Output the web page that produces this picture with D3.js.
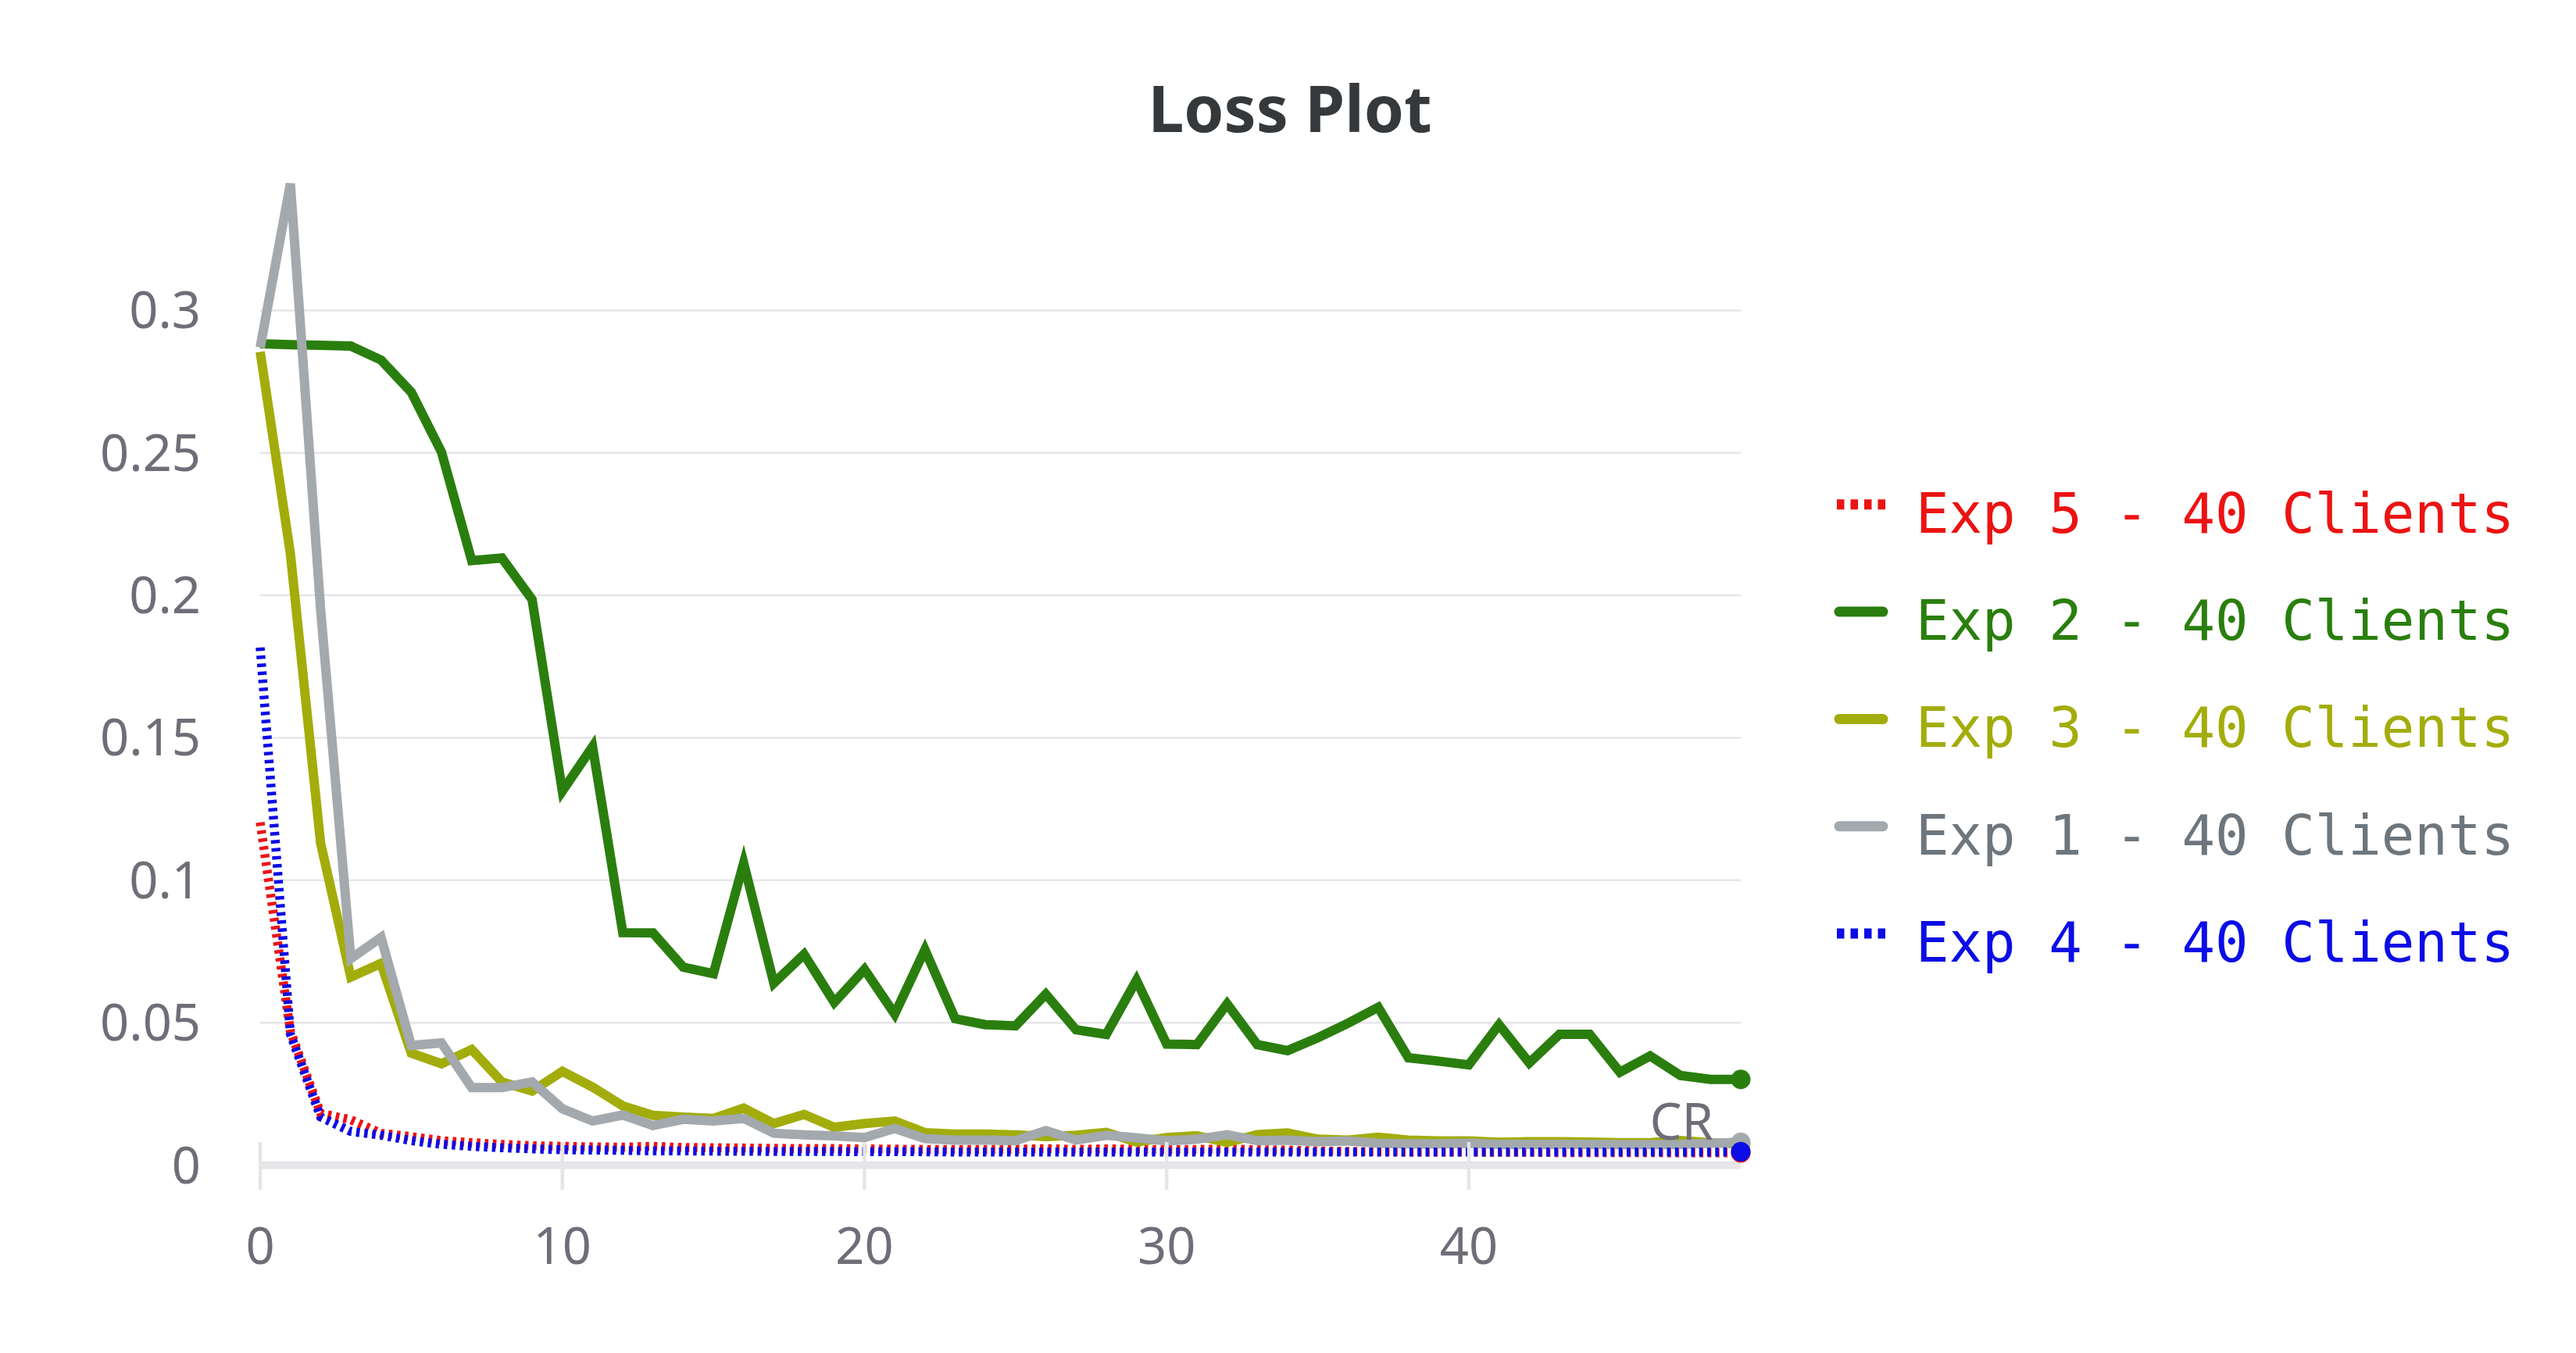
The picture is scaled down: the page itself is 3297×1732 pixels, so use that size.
<!DOCTYPE html>
<html>
<head>
<meta charset="utf-8">
<script src="https://cdn.jsdelivr.net/npm/d3@7"></script>
<style>
  html, body { margin: 0; padding: 0; background: #ffffff; }
  svg { display: block; }
</style>
</head>
<body>
<svg id="chart" width="3297" height="1732"></svg>
<script>
// ---------- data ----------
const steps = d3.range(0, 50);

const exp5 = [0.1203, 0.047, 0.0182, 0.0159, 0.0112, 0.0100, 0.0086, 0.0079, 0.0073, 0.0068,
  0.0066, 0.0064, 0.0063, 0.0066, 0.0062, 0.0061, 0.0060, 0.0059, 0.0058, 0.0058,
  0.0057, 0.0056, 0.0055, 0.0055, 0.0055, 0.0056, 0.0058, 0.0055, 0.0057, 0.0056,
  0.0054, 0.0055, 0.0057, 0.0054, 0.0053, 0.0050, 0.0048, 0.0047, 0.0046, 0.0046,
  0.0046, 0.0045, 0.0045, 0.0044, 0.0044, 0.0044, 0.0044, 0.0043, 0.0043, 0.0043];

const exp2 = [0.2883, 0.2880, 0.2878, 0.2875, 0.2826, 0.2713, 0.2503, 0.2122, 0.2131, 0.1985,
  0.1313, 0.1469, 0.0816, 0.0815, 0.0695, 0.0672, 0.1060, 0.0639, 0.0740, 0.0571,
  0.0687, 0.0530, 0.0756, 0.0514, 0.0493, 0.0489, 0.0600, 0.0475, 0.0459, 0.0649,
  0.0425, 0.0423, 0.0566, 0.0423, 0.0402, 0.0447, 0.0498, 0.0554, 0.0377, 0.0365,
  0.0352, 0.0493, 0.0359, 0.0459, 0.0459, 0.0326, 0.0383, 0.0315, 0.0301, 0.0301];

const exp3 = [0.2855, 0.2146, 0.1130, 0.0660, 0.0708, 0.0393, 0.0356, 0.0406, 0.0292, 0.0260,
  0.0329, 0.0274, 0.0208, 0.0175, 0.0169, 0.0164, 0.0200, 0.0146, 0.0178, 0.0133,
  0.0146, 0.0155, 0.0114, 0.0109, 0.0109, 0.0106, 0.0100, 0.0105, 0.0115, 0.0081,
  0.0097, 0.0103, 0.0080, 0.0107, 0.0113, 0.0091, 0.0088, 0.0098, 0.0088, 0.0085,
  0.0085, 0.0080, 0.0082, 0.0082, 0.0081, 0.0079, 0.0079, 0.0086, 0.0079, 0.0075];

const exp1 = [0.2870, 0.3445, 0.1950, 0.0725, 0.0799, 0.0420, 0.0429, 0.0272, 0.0272, 0.0292,
  0.0198, 0.0155, 0.0176, 0.0139, 0.0161, 0.0155, 0.0164, 0.0112, 0.0106, 0.0103,
  0.0097, 0.0129, 0.0093, 0.0088, 0.0088, 0.0086, 0.0121, 0.0088, 0.0105, 0.0096,
  0.0085, 0.0091, 0.0107, 0.0086, 0.0088, 0.0082, 0.0085, 0.0077, 0.0075, 0.0075,
  0.0077, 0.0073, 0.0073, 0.0073, 0.0073, 0.0072, 0.0072, 0.0073, 0.0077, 0.0080];

const exp4 = [0.1817, 0.0460, 0.0169, 0.0118, 0.0105, 0.0086, 0.0073, 0.0066, 0.0061, 0.0057,
  0.0054, 0.0053, 0.0052, 0.0050, 0.0050, 0.0049, 0.0049, 0.0048, 0.0048, 0.0048,
  0.0047, 0.0047, 0.0047, 0.0046, 0.0046, 0.0046, 0.0046, 0.0046, 0.0046, 0.0046,
  0.0046, 0.0046, 0.0046, 0.0046, 0.0046, 0.0046, 0.0046, 0.0046, 0.0046, 0.0046,
  0.0046, 0.0046, 0.0046, 0.0046, 0.0046, 0.0046, 0.0046, 0.0046, 0.0046, 0.0047];

const seriesNames = ["Exp 5 - 40 Clients", "Exp 2 - 40 Clients", "Exp 3 - 40 Clients",
                     "Exp 1 - 40 Clients", "Exp 4 - 40 Clients"];
const seriesValues = [exp5, exp2, exp3, exp1, exp4];
const seriesColors = ["#ec1313", "#2a7e0e", "#a2ad0b", "#a3a9ac", "#0c0ce6"];
const seriesTextColors = ["#ec1313", "#2a7e0e", "#a2ad0b", "#6e767d", "#0c0ce6"];
const seriesDotted = [true, false, false, false, true];

const yTicks = [0, 0.05, 0.1, 0.15, 0.2, 0.25, 0.3];
const yTickLabels = ["0", "0.05", "0.1", "0.15", "0.2", "0.25", "0.3"];
const xTicks = [0, 10, 20, 30, 40];
const xTickLabels = ["0", "10", "20", "30", "40"];
const titleText = "Loss Plot";
const runLabel = "CR";

// ---------- chart ----------
const svg = d3.select("#chart");
const x = d3.scaleLinear().domain([0, 49]).range([333, 2228]);
const y = d3.scaleLinear().domain([0, 0.3]).range([1491.5, 397.4]);

const labelFont = "'Source Sans Pro', 'Noto Sans', 'Open Sans', sans-serif";
const gridColor = "#e6e6e9";
const tickText = "#6e6e78";

// title
svg.append("text")
  .attr("x", 1651).attr("y", 169)
  .attr("text-anchor", "middle")
  .attr("font-family", labelFont)
  .attr("font-weight", "bold")
  .attr("font-size", 82)
  .attr("fill", "#35393c")
  .text(titleText);

// grid lines
svg.append("g").selectAll("line")
  .data(yTicks.filter(d => d > 0))
  .join("line")
  .attr("x1", x(0)).attr("x2", x(49))
  .attr("y1", d => y(d)).attr("y2", d => y(d))
  .attr("stroke", gridColor).attr("stroke-width", 2.5);

// x axis domain line
svg.append("line")
  .attr("x1", x(0)).attr("x2", x(49))
  .attr("y1", y(0)).attr("y2", y(0))
  .attr("stroke", gridColor).attr("stroke-width", 10);

// y tick labels
svg.append("g").selectAll("text")
  .data(yTicks)
  .join("text")
  .attr("x", 257)
  .attr("y", d => y(d) + 23)
  .attr("text-anchor", "end")
  .attr("font-family", labelFont)
  .attr("font-size", 65)
  .attr("fill", tickText)
  .text((d, i) => yTickLabels[i]);

// x tick labels
svg.append("g").selectAll("text")
  .data(xTicks)
  .join("text")
  .attr("x", d => x(d))
  .attr("y", 1618)
  .attr("text-anchor", "middle")
  .attr("font-family", labelFont)
  .attr("font-size", 65)
  .attr("fill", tickText)
  .text((d, i) => xTickLabels[i]);

// series lines
const line = d3.line()
  .x((d, i) => x(steps[i]))
  .y(d => y(d));

const gSeries = svg.append("g");
seriesValues.forEach((vals, k) => {
  const p = gSeries.append("path")
    .datum(vals)
    .attr("d", line)
    .attr("fill", "none")
    .attr("stroke", seriesColors[k])
    .attr("stroke-width", seriesDotted[k] ? 11.5 : 12)
    .attr("stroke-linejoin", "miter");
  if (seriesDotted[k]) p.attr("stroke-dasharray", "4.5 5.8");
});

// end dots
seriesValues.forEach((vals, k) => {
  gSeries.append("circle")
    .attr("cx", x(steps[vals.length - 1]))
    .attr("cy", y(vals[vals.length - 1]))
    .attr("r", 12.5)
    .attr("fill", seriesColors[k]);
});

// x ticks (drawn over the data)
svg.append("g").selectAll("line")
  .data(xTicks)
  .join("line")
  .attr("x1", d => x(d)).attr("x2", d => x(d))
  .attr("y1", 1462).attr("y2", 1523)
  .attr("stroke", gridColor).attr("stroke-width", 4.5);

// run label near the last point of Exp 1
svg.append("text")
  .attr("x", x(49) - 35)
  .attr("y", y(exp1[exp1.length - 1]) - 3)
  .attr("text-anchor", "end")
  .attr("font-family", labelFont)
  .attr("font-size", 65)
  .attr("fill", tickText)
  .text(runLabel);

// legend
const legend = svg.append("g");
seriesNames.forEach((name, k) => {
  const base = 681.8 + k * 137.3;
  const cy = base - 36;
  if (seriesDotted[k]) {
    legend.append("line")
      .attr("x1", 2351).attr("x2", 2413)
      .attr("y1", cy).attr("y2", cy)
      .attr("stroke", seriesColors[k]).attr("stroke-width", 13)
      .attr("stroke-dasharray", "9.5 8");
  } else {
    legend.append("line")
      .attr("x1", 2354).attr("x2", 2410)
      .attr("y1", cy).attr("y2", cy)
      .attr("stroke", seriesColors[k]).attr("stroke-width", 13)
      .attr("stroke-linecap", "round");
  }
  legend.append("text")
    .attr("x", 2452)
    .attr("y", base)
    .attr("font-family", "'DejaVu Sans Mono', monospace")
    .attr("font-size", 70.7)
    .attr("fill", seriesTextColors[k])
    .text(name);
});
</script>
</body>
</html>
